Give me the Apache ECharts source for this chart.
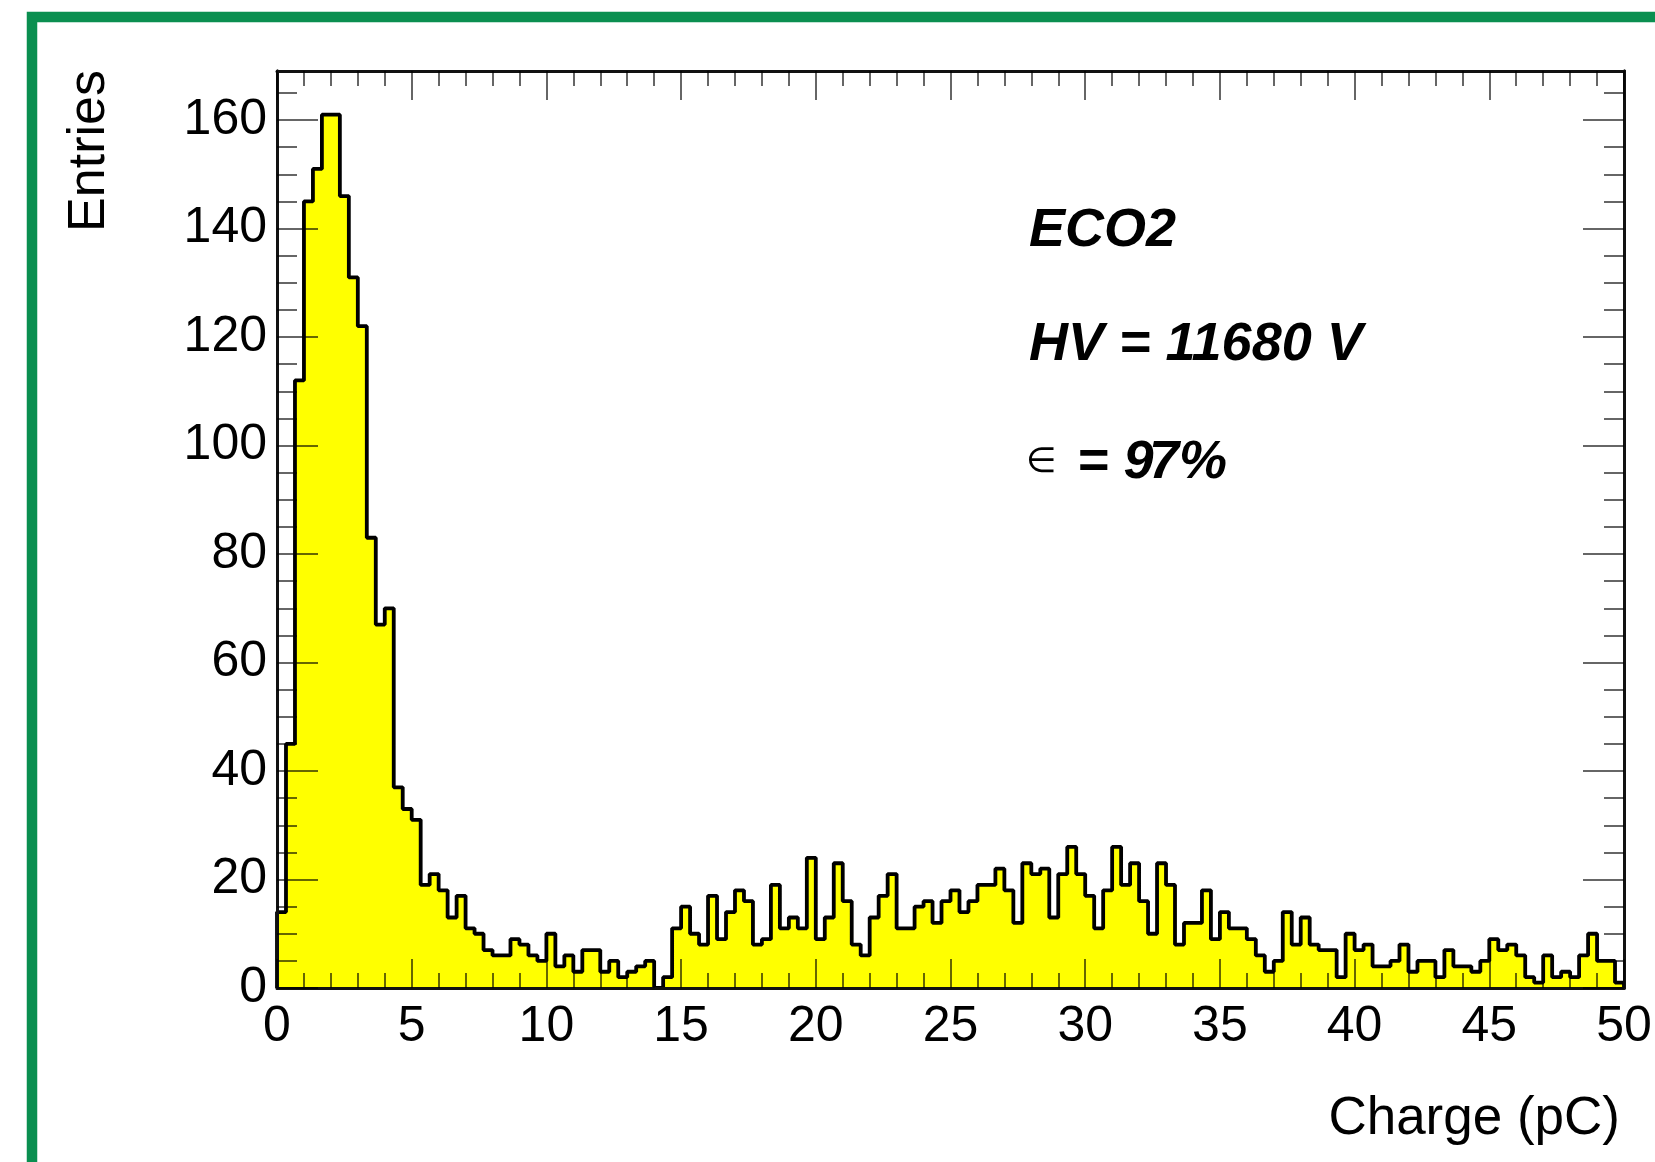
<!DOCTYPE html>
<html>
<head>
<meta charset="utf-8">
<script src="https://cdn.jsdelivr.net/npm/echarts@6/dist/echarts.min.js"></script>
<style>
  html, body { margin: 0; padding: 0; background: #ffffff; }
  #chart { width: 1655px; height: 1162px; }
</style>
</head>
<body>
<div id="chart"></div>
<script>
// Charge spectrum: 150 equal bins between 0 and 50 pC
const chargeMin = 0;
const chargeMax = 50;
const binCount = 150;

// Counts per bin, in bin order
const entries = [
  14, 45, 112, 145, 151, 161, 161, 146, 131, 122,
  83, 67, 70, 37, 33, 31, 19, 21, 18, 13,
  17, 11, 10, 7, 6, 6, 9, 8, 6, 5,
  10, 4, 6, 3, 7, 7, 3, 5, 2, 3,
  4, 5, 0, 2, 11, 15, 10, 8, 17, 9,
  14, 18, 16, 8, 9, 19, 11, 13, 11, 24,
  9, 13, 23, 16, 8, 6, 13, 17, 21, 11,
  11, 15, 16, 12, 16, 18, 14, 16, 19, 19,
  22, 18, 12, 23, 21, 22, 13, 21, 26, 21,
  17, 11, 18, 26, 19, 23, 16, 10, 23, 19,
  8, 12, 12, 18, 9, 14, 11, 11, 9, 6,
  3, 5, 14, 8, 13, 8, 7, 7, 2, 10,
  7, 8, 4, 4, 5, 8, 3, 5, 5, 2,
  7, 4, 4, 3, 5, 9, 7, 8, 6, 2,
  1, 6, 2, 3, 2, 6, 10, 5, 5, 1
];

// Axis ticks and labels
const xMajorTicks = [0, 5, 10, 15, 20, 25, 30, 35, 40, 45, 50];
const yMajorTicks = [0, 20, 40, 60, 80, 100, 120, 140, 160];
const yMinorTicks = [0, 5, 10, 15, 20, 25, 30, 35, 40, 45, 50, 55, 60, 65, 70, 75, 80,
  85, 90, 95, 100, 105, 110, 115, 120, 125, 130, 135, 140, 145, 150, 155, 160, 165];

// Frame headroom above the tallest bin
const yMax = Math.max(...entries) * 1.05;

// Step outline points at the bin edges
const binWidth = (chargeMax - chargeMin) / binCount;
const outline = [[chargeMin, 0]];
entries.forEach((n, i) => outline.push([chargeMin + i * binWidth, n]));
outline.push([chargeMax, entries[entries.length - 1]], [chargeMax, 0]);

const FONT = '"Liberation Sans", Arial, Helvetica, sans-serif';
const tickColor = 'rgba(0,0,0,0.6)';
const frameLine = { show: true, onZero: false, lineStyle: { color: '#111', width: 3 } };

function xAxisDef(pos, withLabels) {
  return {
    type: 'value', position: pos, min: chargeMin, max: chargeMax, interval: 5,
    z: 10,
    axisLine: frameLine,
    axisTick: { show: true, inside: true, length: 29, lineStyle: { color: tickColor, width: 2 } },
    minorTick: { show: true, splitNumber: 5, length: 15, lineStyle: { color: tickColor, width: 2 } },
    splitLine: { show: false },
    axisLabel: withLabels ? {
      show: true, margin: 14, color: '#000', fontFamily: FONT, fontSize: 50,
      customValues: xMajorTicks
    } : { show: false }
  };
}

function yAxisDef(pos, ticks, len, withLabels) {
  return {
    type: 'value', position: pos, min: 0, max: yMax,
    z: 10,
    axisLine: frameLine,
    axisTick: { show: true, inside: true, length: len, customValues: ticks,
      lineStyle: { color: tickColor, width: 2 } },
    splitLine: { show: false },
    axisLabel: withLabels ? {
      show: true, margin: 10, color: '#000', fontFamily: FONT, fontSize: 50,
      customValues: yMajorTicks
    } : { show: false }
  };
}

const chart = echarts.init(document.getElementById('chart'), null, { renderer: 'canvas' });

const textFont = 'italic bold 54px ' + FONT;

chart.setOption({
  animation: false,
  backgroundColor: '#ffffff',
  grid: { left: 277, right: 31, top: 71, bottom: 174, containLabel: false },
  xAxis: [xAxisDef('bottom', true), xAxisDef('top', false)],
  yAxis: [
    yAxisDef('left', yMajorTicks, 41, true),
    yAxisDef('left', yMinorTicks, 20, false),
    yAxisDef('right', yMajorTicks, 41, false),
    yAxisDef('right', yMinorTicks, 20, false)
  ],
  series: [{
    type: 'line',
    xAxisIndex: 0,
    yAxisIndex: 0,
    step: 'end',
    data: outline,
    symbol: 'none',
    z: 2,
    lineStyle: { color: '#000', width: 3.8 },
    areaStyle: { color: '#ffff00', opacity: 1, origin: 0 }
  }],
  graphic: [
    { type: 'rect', silent: true, z: 100,
      shape: { x: 32, y: 17, width: 1700, height: 1300 },
      style: { fill: 'none', stroke: '#0a8f50', lineWidth: 10.5 } },
    { type: 'text', x: 1029, y: 231, z: 100,
      style: { text: 'ECO2', font: textFont, fill: '#000', verticalAlign: 'middle' } },
    { type: 'text', x: 1029, y: 345, z: 100,
      style: { text: 'HV = 11680 V', font: textFont, fill: '#000', verticalAlign: 'middle' } },
    { type: 'text', x: 1026, y: 463, z: 100,
      style: { text: '\u2208', font: '35px "DejaVu Sans", sans-serif', fill: '#000', verticalAlign: 'middle' } },
    { type: 'text', x: 1077, y: 463, z: 100,
      style: { text: '= 9', font: textFont, fill: '#000', verticalAlign: 'middle' } },
    { type: 'text', x: 1149, y: 463, z: 100,
      style: { text: '7%', font: textFont, fill: '#000', verticalAlign: 'middle' } },
    { type: 'text', x: 90, y: 151, rotation: Math.PI / 2, z: 100,
      style: { text: 'Entries', font: '52px ' + FONT, fill: '#000', align: 'center', verticalAlign: 'middle' } },
    { type: 'text', x: 1620, y: 1119, z: 100,
      style: { text: 'Charge (pC)', font: '53px ' + FONT, fill: '#000', align: 'right', verticalAlign: 'middle' } }
  ]
});
</script>
</body>
</html>
